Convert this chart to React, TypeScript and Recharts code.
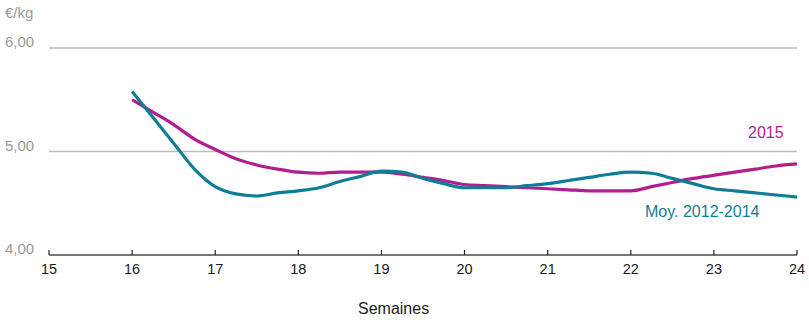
import { LineChart, Line, XAxis, YAxis, CartesianGrid } from 'recharts'

// prix €/kg par semaine (pas d'un quart de semaine)
const WEEKS = [
  16, 16.25, 16.5, 16.75, 17, 17.25, 17.5, 17.75, 18, 18.25, 18.5, 18.75, 19, 19.25, 19.5, 19.75,
  20, 20.25, 20.5, 20.75, 21, 21.25, 21.5, 21.75, 22, 22.25, 22.5, 22.75, 23, 23.25, 23.5, 23.75, 24,
]
const Y2015 = [
  5.5, 5.38, 5.26, 5.12, 5.02, 4.93, 4.87, 4.83, 4.8, 4.79, 4.8, 4.8, 4.8, 4.78, 4.75, 4.72,
  4.68, 4.67, 4.66, 4.65, 4.64, 4.63, 4.62, 4.62, 4.62, 4.66, 4.7, 4.74, 4.77, 4.8, 4.83, 4.86, 4.88,
]
const MOY = [
  5.58, 5.33, 5.08, 4.83, 4.66, 4.59, 4.57, 4.6, 4.62, 4.65, 4.71, 4.76, 4.81, 4.8, 4.74, 4.69,
  4.65, 4.65, 4.65, 4.67, 4.69, 4.72, 4.75, 4.78, 4.8, 4.79, 4.74, 4.69, 4.64, 4.62, 4.6, 4.58, 4.56,
]
const X_TICKS = [15, 16, 17, 18, 19, 20, 21, 22, 23, 24]
const Y_TICKS = [4, 5, 6]

const FONT = '"Liberation Sans", Arial, Helvetica, sans-serif'
const MAGENTA = '#b01f8e'
const TEAL = '#107d97'

const data = WEEKS.map((w, i) => ({ w, a2015: Y2015[i], moy: MOY[i] }))

function XTick({ x, y, payload }: any) {
  return (
    <g>
      <line x1={x} x2={x} y1={y} y2={y - 5} stroke="#222" strokeWidth={1.2} />
      <text x={x} y={y + 19} textAnchor="middle" fontSize={14.5} fill="#1a1a1a" fontFamily={FONT}>
        {payload.value}
      </text>
    </g>
  )
}

function YTick({ y, payload }: any) {
  return (
    <text x={5} y={y - 1} textAnchor="start" fontSize={15} fill="#9a9a9a" fontFamily={FONT}>
      {payload.value.toFixed(2).replace('.', ',')}
    </text>
  )
}

export default function App() {
  return (
    <div style={{ position: 'absolute', left: 0, top: 0, width: 809, height: 320, fontFamily: FONT }}>
      <LineChart width={809} height={320} data={data} margin={{ top: 48, right: 12, left: 0, bottom: 0 }}>
        <CartesianGrid stroke="#bdbdbd" strokeWidth={1.5} vertical={false} />
        <XAxis
          dataKey="w"
          type="number"
          domain={[15, 24]}
          ticks={X_TICKS}
          interval={0}
          tickSize={0}
          tickMargin={0}
          tick={<XTick />}
          axisLine={{ stroke: '#222', strokeWidth: 1.2 }}
          tickLine={false}
          height={65}
        />
        <YAxis
          domain={[4, 6]}
          ticks={Y_TICKS}
          width={49}
          axisLine={false}
          tickLine={false}
          tick={<YTick />}
        />
        <Line type="monotone" dataKey="a2015" stroke={MAGENTA} strokeWidth={3.2} dot={false} isAnimationActive={false} />
        <Line type="monotone" dataKey="moy" stroke={TEAL} strokeWidth={3.2} dot={false} isAnimationActive={false} />
      </LineChart>
      <div style={{ position: 'absolute', left: 5, top: 4, fontSize: 15, color: '#9a9a9a' }}>€/kg</div>
      <div style={{ position: 'absolute', left: 748, top: 124, fontSize: 16, color: MAGENTA }}>2015</div>
      <div style={{ position: 'absolute', left: 645, top: 203, fontSize: 16, color: TEAL }}>Moy. 2012-2014</div>
      <div style={{ position: 'absolute', left: 358, top: 300, fontSize: 16, color: '#1a1a1a' }}>Semaines</div>
    </div>
  )
}
